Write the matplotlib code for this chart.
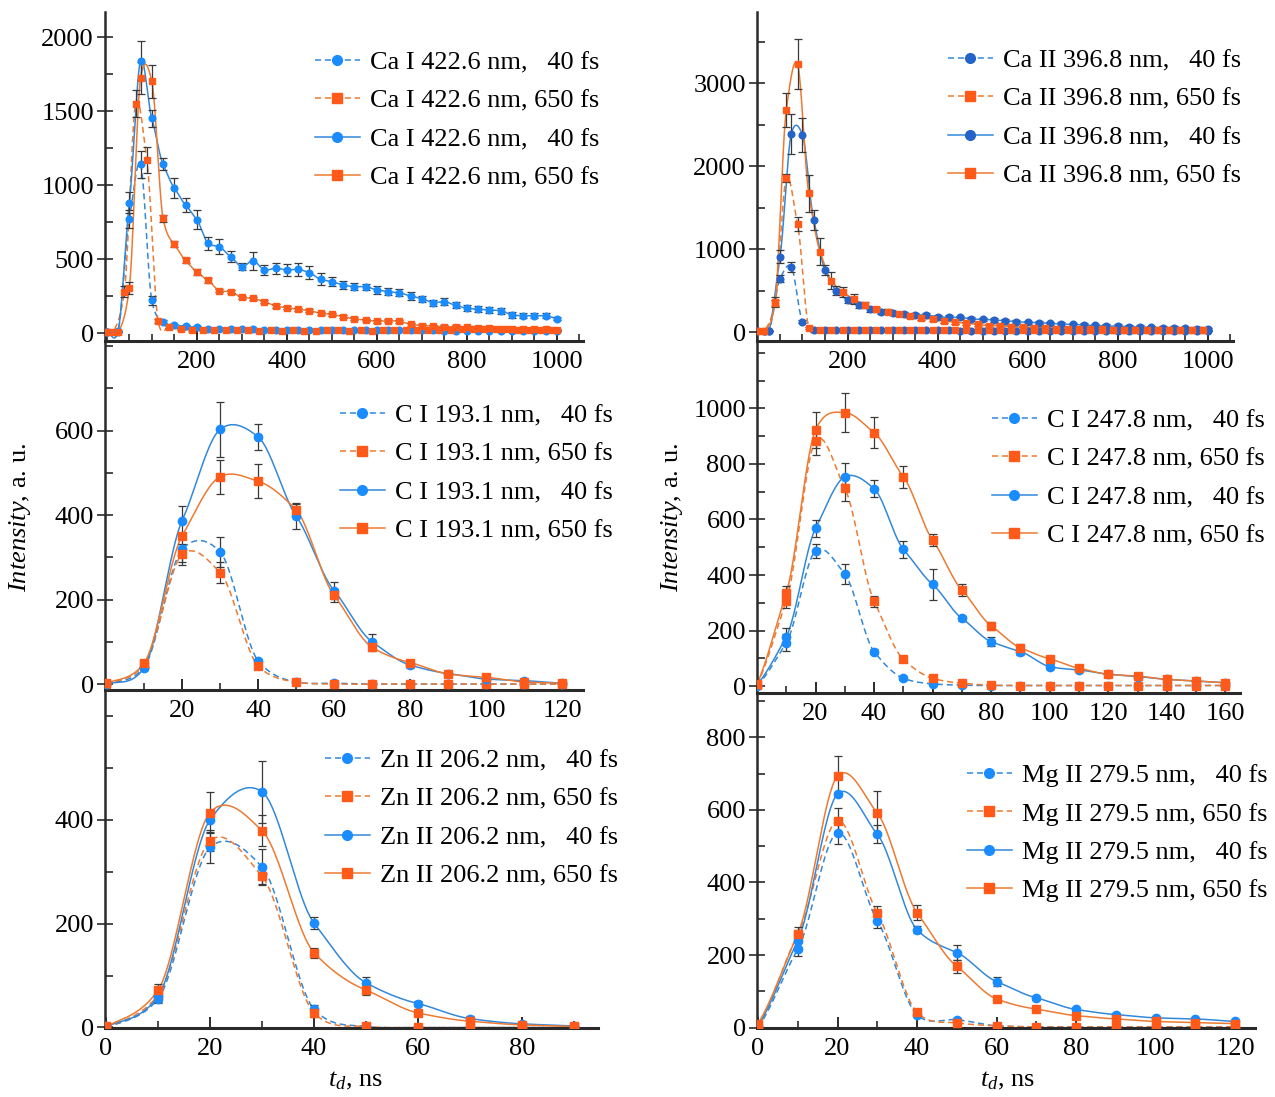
import numpy as np
import matplotlib
matplotlib.use("Agg")
import matplotlib.pyplot as plt
from matplotlib.lines import Line2D
from matplotlib.ticker import FixedLocator, MultipleLocator

plt.rcParams['font.family'] = ['Liberation Serif', 'DejaVu Serif']
plt.rcParams['mathtext.fontset'] = 'custom'
plt.rcParams['mathtext.rm'] = 'Liberation Serif'
plt.rcParams['mathtext.it'] = 'Liberation Serif:italic'

# ---------------- data ----------------
# Ca I 422.6 nm
t_ca1 = np.arange(0, 1001, 25)
t_ca1_shift = np.concatenate([[0], np.arange(14, 1000, 25)])
ca1_40_dash = [10, 10, 770, 1140, 220, 75, 55, 45, 38, 30,
               28, 25, 25, 25, 22, 22, 22, 20, 20, 20,
               20, 18, 18, 18, 18, 18, 17, 17, 17, 17,
               16, 16, 16, 16, 16, 15, 15, 15, 15, 15, 15]
ca1_40_dash_err = [0, 0, 60, 90, 30, 10, 8, 8, 6, 6,
                   5, 5, 5, 5, 5, 5, 5, 5, 5, 5,
                   4, 4, 4, 4, 4, 4, 4, 4, 4, 4,
                   4, 4, 4, 4, 4, 4, 4, 4, 4, 4, 4]
ca1_650_dash = [10, 10, 280, 1550, 1170, 80, 40, 25, 22, 20,
                20, 18, 18, 18, 15, 18, 15, 18, 15, 15,
                18, 18, 15, 18, 15, 18, 18, 20, 20, 20,
                22, 22, 25, 25, 25, 25, 25, 22, 22, 22, 22]
ca1_650_dash_err = [0, 0, 40, 90, 90, 15, 8, 6, 6, 5,
                    5, 5, 5, 5, 5, 5, 5, 5, 5, 5,
                    5, 5, 5, 5, 5, 5, 5, 5, 5, 5,
                    5, 5, 5, 5, 5, 5, 5, 5, 5, 5, 5]
ca1_40_solid = [10, 12, 880, 1840, 1450, 1140, 980, 865, 765, 606,
                583, 516, 448, 489, 426, 437, 426, 430, 408, 363,
                347, 324, 313, 313, 291, 279, 272, 250, 232, 205,
                212, 187, 167, 162, 155, 151, 122, 117, 117, 117, 97]
ca1_40_solid_err = [0, 0, 70, 130, 60, 40, 70, 50, 65, 45,
                    50, 35, 25, 60, 35, 35, 40, 45, 45, 40,
                    30, 30, 25, 20, 25, 25, 25, 25, 20, 20,
                    25, 20, 20, 20, 20, 20, 20, 15, 15, 15, 10]
ca1_650_solid = [10, 10, 305, 1722, 1700, 775, 600, 490, 412, 355,
                 286, 279, 241, 234, 212, 182, 171, 160, 151, 133,
                 126, 110, 95, 88, 79, 83, 79, 59, 50, 47,
                 43, 43, 38, 32, 36, 27, 27, 25, 27, 25, 20]
ca1_650_solid_err = [0, 0, 40, 110, 110, 25, 20, 20, 20, 20,
                     12, 12, 12, 12, 12, 12, 12, 12, 12, 10,
                     10, 10, 10, 10, 10, 10, 10, 10, 10, 10,
                     8, 8, 8, 8, 8, 8, 8, 8, 8, 8, 8]

# Ca II 396.8 nm
t_ca2 = np.arange(0, 1001, 25)
t_ca2_shift = np.concatenate([[0], np.arange(14, 1000, 25)])
ca2_40_dash = [10, 10, 642, 787, 124, 30, 25, 22, 20, 20,
               20, 20, 20, 20, 20, 20, 20, 20, 18, 18,
               18, 18, 18, 18, 18, 18, 18, 18, 18, 18,
               18, 18, 18, 18, 18, 18, 18, 18, 18, 18, 18]
ca2_40_dash_err = [0, 0, 40, 60, 20, 10, 8, 8, 8, 8,
                   8, 8, 8, 8, 8, 8, 8, 8, 8, 8,
                   8, 8, 8, 8, 8, 8, 8, 8, 8, 8,
                   8, 8, 8, 8, 8, 8, 8, 8, 8, 8, 8]
ca2_650_dash = [10, 10, 350, 1852, 1301, 50, 30, 28, 28, 26,
                26, 26, 25, 25, 25, 25, 25, 25, 25, 25,
                25, 25, 25, 25, 25, 25, 25, 25, 25, 25,
                25, 25, 25, 25, 25, 25, 25, 25, 25, 25, 25]
ca2_650_dash_err = [0, 0, 40, 50, 80, 15, 10, 10, 10, 10,
                    10, 10, 10, 10, 10, 10, 10, 10, 10, 10,
                    10, 10, 10, 10, 10, 10, 10, 10, 10, 10,
                    10, 10, 10, 10, 10, 10, 10, 10, 10, 10, 10]
ca2_40_solid = [10, 10, 907, 2386, 2374, 1350, 747, 500, 386, 325,
                273, 245, 225, 213, 205, 205, 185, 177, 177, 157,
                153, 145, 137, 124, 117, 112, 104, 96, 92, 84,
                80, 72, 72, 64, 60, 56, 52, 48, 44, 36, 32]
ca2_40_solid_err = [0, 0, 80, 240, 200, 120, 60, 50, 40, 35,
                    30, 30, 25, 25, 25, 25, 25, 25, 20, 20,
                    20, 20, 20, 20, 20, 20, 20, 20, 20, 20,
                    20, 20, 20, 20, 20, 20, 20, 20, 20, 20, 20]
ca2_650_solid = [10, 10, 358, 2675, 3229, 1671, 968, 618, 486, 394,
                 325, 273, 245, 213, 193, 173, 153, 133, 117, 104,
                 92, 76, 76, 64, 56, 52, 44, 40, 38, 36,
                 34, 32, 30, 30, 28, 28, 26, 26, 25, 24, 24]
ca2_650_solid_err = [0, 0, 60, 200, 300, 220, 160, 100, 60, 60,
                     40, 30, 30, 25, 25, 25, 25, 25, 25, 20,
                     20, 20, 20, 20, 20, 20, 20, 20, 20, 20,
                     20, 20, 20, 20, 20, 20, 20, 20, 20, 20, 20]

# C I 193.1 nm
t_c193 = np.arange(0, 121, 10)
c193_40_dash = [0, 40, 319, 313, 55, 5, 2, 0, 0, 0, 0, 0, 0]
c193_40_dash_err = [0, 5, 30, 35, 5, 0, 0, 0, 0, 0, 0, 0, 0]
c193_650_dash = [0, 45, 307, 264, 43, 5, 0, 0, 0, 0, 0, 0, 0]
c193_650_dash_err = [0, 5, 25, 25, 5, 0, 0, 0, 0, 0, 0, 0, 0]
c193_40_solid = [0, 39, 387, 603, 585, 398, 221, 100, 45, 25, 12, 8, 2]
c193_40_solid_err = [0, 5, 35, 65, 30, 30, 20, 18, 8, 5, 3, 2, 0]
c193_650_solid = [2, 50, 351, 491, 480, 412, 210, 87, 51, 24, 16, 5, 2]
c193_650_solid_err = [0, 8, 0, 40, 40, 15, 15, 8, 5, 4, 3, 0, 0]

# C I 247.8 nm
t_c247 = np.arange(0, 161, 10)
c247_40_dash = [0, 156, 487, 403, 124, 28, 8, 3, 2, 2, 2, 2, 2, 2, 2, 2, 2]
c247_40_dash_err = [0, 30, 25, 35, 8, 5, 0, 0, 0, 0, 0, 0, 0, 0, 0, 0, 0]
c247_650_dash = [5, 307, 884, 712, 306, 96, 28, 10, 3, 2, 2, 2, 2, 2, 2, 2, 2]
c247_650_dash_err = [0, 25, 50, 45, 20, 10, 5, 2, 0, 0, 0, 0, 0, 0, 0, 0, 0]
c247_40_solid = [5, 178, 568, 754, 711, 493, 366, 244, 160, 124, 70, 58, 43, 34, 24, 18, 12]
c247_40_solid_err = [0, 30, 30, 50, 30, 30, 55, 10, 15, 12, 10, 8, 6, 5, 4, 3, 2]
c247_650_solid = [7, 336, 923, 985, 913, 754, 526, 346, 217, 138, 98, 64, 42, 36, 24, 18, 12]
c247_650_solid_err = [0, 25, 65, 70, 55, 40, 20, 20, 15, 12, 8, 8, 6, 6, 5, 4, 3]

# Zn II 206.2 nm
t_zn = np.arange(0, 91, 10)
zn_40_dash = [0, 55, 347, 309, 35, 2, 0, 0, 0, 0]
zn_40_dash_err = [0, 8, 30, 35, 8, 0, 0, 0, 0, 0]
zn_650_dash = [0, 62, 360, 291, 28, 2, 0, 0, 0, 0]
zn_650_dash_err = [0, 8, 20, 15, 8, 0, 0, 0, 0, 0]
zn_40_solid = [2, 60, 400, 454, 201, 86, 46, 17, 7, 3]
zn_40_solid_err = [0, 10, 0, 60, 12, 12, 5, 5, 3, 0]
zn_650_solid = [2, 72, 414, 379, 144, 72, 28, 12, 5, 2]
zn_650_solid_err = [0, 12, 40, 30, 10, 10, 5, 4, 3, 0]

# Mg II 279.5 nm
t_mg = np.arange(0, 121, 10)
mg_40_dash = [0, 216, 537, 295, 35, 22, 5, 2, 2, 2, 2, 2, 2]
mg_40_dash_err = [0, 20, 30, 20, 5, 5, 0, 0, 0, 0, 0, 0, 0]
mg_650_dash = [0, 255, 570, 316, 42, 13, 5, 2, 2, 2, 2, 2, 2]
mg_650_dash_err = [0, 15, 35, 20, 8, 5, 0, 0, 0, 0, 0, 0, 0]
mg_40_solid = [5, 240, 644, 533, 270, 207, 127, 82, 50, 36, 27, 24, 17]
mg_40_solid_err = [0, 20, 0, 25, 10, 20, 12, 6, 5, 4, 3, 3, 2]
mg_650_solid = [11, 258, 693, 591, 317, 169, 79, 51, 33, 24, 17, 14, 11]
mg_650_solid_err = [0, 20, 55, 60, 20, 18, 8, 6, 5, 4, 3, 3, 2]

BLUE_LINE = '#3388d8'
BLUE_MARK = '#1a8cff'
BLUE_MARK_DARK = '#2563c9'
ORANGE_LINE = '#ec7a32'
ORANGE_MARK = '#ff5a1a'
ERR_COLOR = '#3a3a3a'
AX_COLOR = '#2a2a2a'

W, H = 1275, 1097


def cardinal(x, y, tension=0.3, per_seg=40):
    """cardinal (Catmull-Rom like) spline through the points"""
    x = np.asarray(x, float)
    y = np.asarray(y, float)
    n = len(x)
    m = np.zeros(n)
    m[1:-1] = (1 - tension) * (y[2:] - y[:-2]) / (x[2:] - x[:-2])
    m[0] = (1 - tension) * (y[1] - y[0]) / (x[1] - x[0])
    m[-1] = (1 - tension) * (y[-1] - y[-2]) / (x[-1] - x[-2])
    xs_all, ys_all = [], []
    t = np.linspace(0, 1, per_seg)
    h00 = 2 * t ** 3 - 3 * t ** 2 + 1
    h10 = t ** 3 - 2 * t ** 2 + t
    h01 = -2 * t ** 3 + 3 * t ** 2
    h11 = t ** 3 - t ** 2
    for k in range(n - 1):
        h = x[k + 1] - x[k]
        xs_all.append(x[k] + t * h)
        ys_all.append(h00 * y[k] + h10 * h * m[k] + h01 * y[k + 1] + h11 * h * m[k + 1])
    return np.concatenate(xs_all), np.concatenate(ys_all)


def make_axes(fig, left, top, right, bottom):
    return fig.add_axes([left / W, 1 - bottom / H, (right - left) / W, (bottom - top) / H])


def draw_panel(ax, series, name, blue_mark, xlim, ylim,
               xmajor, xminor, ymajor, yminor, leg_xy, ms=6):
    handles = []
    labels = []
    for x, y, err, dashed, blue in series:
        lc = BLUE_LINE if blue else ORANGE_LINE
        mc = blue_mark if blue else ORANGE_MARK
        mk = 'o' if blue else 's'
        ls = (0, (4, 2.5)) if dashed else '-'
        xs, ys = cardinal(x, y)
        ax.plot(xs, ys, color=lc, lw=1.1, ls=ls, zorder=2)
        ax.errorbar(x, y, yerr=err, fmt='none', ecolor=ERR_COLOR, elinewidth=0.9,
                    capsize=3, capthick=0.9, zorder=3)
        ax.plot(x, y, ls='none', marker=mk, ms=ms, mfc=mc, mec=mc, zorder=4)
        handles.append(Line2D([], [], color=lc, lw=1.1, ls=ls, marker=mk, ms=7,
                              mfc=mc, mec=mc))
        labels.append(name + (',   40 fs' if blue else ', 650 fs'))

    ax.set_xlim(*xlim)
    ax.set_ylim(*ylim)
    ax.patch.set_visible(False)
    for s in ['top', 'right']:
        ax.spines[s].set_visible(False)
    ax.spines['left'].set_linewidth(1.8)
    ax.spines['left'].set_color(AX_COLOR)
    ax.spines['bottom'].set_linewidth(2.2)
    ax.spines['bottom'].set_color(AX_COLOR)
    ax.xaxis.set_major_locator(FixedLocator(xmajor))
    ax.xaxis.set_minor_locator(MultipleLocator(xminor))
    ax.yaxis.set_major_locator(FixedLocator(ymajor))
    ax.yaxis.set_minor_locator(MultipleLocator(yminor))
    ax.tick_params(axis='x', which='major', direction='in', length=8, width=1.4,
                   color=AX_COLOR, labelsize=19, pad=7)
    ax.tick_params(axis='x', which='minor', direction='in', length=5, width=1.2,
                   color=AX_COLOR)
    ax.tick_params(axis='y', which='major', direction='inout', length=12, width=1.2,
                   color=AX_COLOR, labelsize=19, pad=2)
    ax.tick_params(axis='y', which='minor', direction='in', length=6, width=1.2,
                   color=AX_COLOR)
    ax.legend(handles, labels, loc='upper left',
              bbox_to_anchor=(leg_xy[0] / W, 1 - leg_xy[1] / H),
              bbox_transform=ax.figure.transFigure, frameon=False, fontsize=19,
              borderpad=0, borderaxespad=0, handlelength=1.7, handletextpad=0.4,
              labelspacing=0.56)


fig = plt.figure(figsize=(W / 100, H / 100), dpi=100)

# top left: Ca I
ax = make_axes(fig, 105, 12, 583, 341)
draw_panel(ax, [(t_ca1, ca1_40_dash, ca1_40_dash_err, True, True),
                (t_ca1_shift, ca1_650_dash, ca1_650_dash_err, True, False),
                (t_ca1, ca1_40_solid, ca1_40_solid_err, False, True),
                (t_ca1, ca1_650_solid, ca1_650_solid_err, False, False)],
           'Ca I 422.6 nm', BLUE_MARK, (-4, 1058), (-54, 2169),
           [200, 400, 600, 800, 1000], 50, [0, 500, 1000, 1500, 2000], 250, (315, 51), ms=4.8)

# top right: Ca II
ax = make_axes(fig, 757, 12, 1233, 341)
draw_panel(ax, [(t_ca2, ca2_40_dash, ca2_40_dash_err, True, True),
                (t_ca2_shift, ca2_650_dash, ca2_650_dash_err, True, False),
                (t_ca2, ca2_40_solid, ca2_40_solid_err, False, True),
                (t_ca2_shift, ca2_650_solid, ca2_650_solid_err, False, False)],
           'Ca II 396.8 nm', BLUE_MARK_DARK, (-1, 1056), (-108, 3856),
           [200, 400, 600, 800, 1000], 50, [0, 1000, 2000, 3000], 500, (948, 49), ms=4.8)

# middle left: C I 193.1
ax = make_axes(fig, 105, 341, 583, 690)
draw_panel(ax, [(t_c193, c193_40_dash, c193_40_dash_err, True, True),
                (t_c193, c193_650_dash, c193_650_dash_err, True, False),
                (t_c193, c193_40_solid, c193_40_solid_err, False, True),
                (t_c193, c193_650_solid, c193_650_solid_err, False, False)],
           'C I 193.1 nm', BLUE_MARK, (-0.3, 125.5), (-14, 812),
           [20, 40, 60, 80, 100, 120], 10, [0, 200, 400, 600], 100, (340, 404))

# middle right: C I 247.8
ax = make_axes(fig, 757, 341, 1240, 693)
draw_panel(ax, [(t_c247, c247_40_dash, c247_40_dash_err, True, True),
                (t_c247, c247_650_dash, c247_650_dash_err, True, False),
                (t_c247, c247_40_solid, c247_40_solid_err, False, True),
                (t_c247, c247_650_solid, c247_650_solid_err, False, False)],
           'C I 247.8 nm', BLUE_MARK, (0, 165), (-25, 1243),
           list(range(20, 161, 20)), 10, [0, 200, 400, 600, 800, 1000], 100, (992, 409))

# bottom left: Zn II
ax = make_axes(fig, 105, 690, 598, 1028)
draw_panel(ax, [(t_zn, zn_40_dash, zn_40_dash_err, True, True),
                (t_zn, zn_650_dash, zn_650_dash_err, True, False),
                (t_zn, zn_40_solid, zn_40_solid_err, False, True),
                (t_zn, zn_650_solid, zn_650_solid_err, False, False)],
           'Zn II 206.2 nm', BLUE_MARK, (-0.2, 94.6), (-1, 650),
           [0, 20, 40, 60, 80], 10, [0, 200, 400], 100, (325, 749))

# bottom right: Mg II
ax = make_axes(fig, 757, 693, 1255, 1028)
draw_panel(ax, [(t_mg, mg_40_dash, mg_40_dash_err, True, True),
                (t_mg, mg_650_dash, mg_650_dash_err, True, False),
                (t_mg, mg_40_solid, mg_40_solid_err, False, True),
                (t_mg, mg_650_solid, mg_650_solid_err, False, False)],
           'Mg II 279.5 nm', BLUE_MARK, (-0.25, 125), (-1, 922),
           [0, 20, 40, 60, 80, 100, 120], 10, [0, 200, 400, 600, 800], 100, (967, 764))

# axis titles
for xp in (20, 672):
    fig.text(xp / W, 1 - 517 / H, r'$\mathit{Intensity}$, a. u.', rotation=90,
             ha='center', va='center', fontsize=19)
for xp in (355, 1007):
    fig.text(xp / W, 1 - 1081 / H, r'$t_d$, ns', ha='center', va='center', fontsize=19)

fig.savefig('out.png', dpi=100)
